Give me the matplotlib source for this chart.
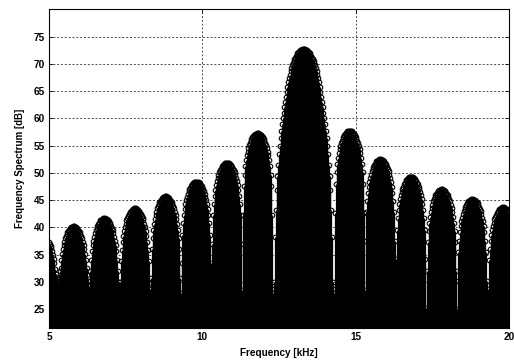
import numpy as np
import matplotlib
matplotlib.use("Agg")
import matplotlib.pyplot as plt

plt.rcParams['font.family'] = ['Liberation Sans', 'DejaVu Sans']

# sampling grid of the spectrum (kHz)
f_start = 5.0
f_step = 0.025

# spectrum levels (dB), read lobe by lobe from the picture
lobe0_tail = [37.3, 37.0, 36.6, 36.2, 35.6, 35.0, 34.3, 33.4, 32.3, 31.4, 30.9, 30.5]
lobe1 = [30.0, 31.0, 32.0, 32.6, 34.1, 35.2, 36.1, 36.8, 37.4, 38.0, 38.4, 38.8, 39.1, 39.4, 39.6, 39.8, 39.9, 40.0, 40.1, 40.2,
         40.2, 40.2, 40.1, 40.0, 39.9, 39.8, 39.6, 39.4, 39.1, 38.8, 38.4, 38.0, 37.4, 36.8, 36.1, 35.2, 34.1, 32.6, 31.2, 30.2]
lobe2 = [29.2, 30.2, 32.0, 34.1, 35.6, 36.7, 37.6, 38.3, 38.9, 39.5, 39.9, 40.3, 40.6, 40.9, 41.1, 41.3, 41.4, 41.6, 41.6, 41.7,
         41.7, 41.7, 41.6, 41.6, 41.4, 41.3, 41.1, 40.9, 40.6, 40.3, 39.9, 39.5, 38.9, 38.3, 37.6, 36.7, 35.6, 34.1, 32.0, 30.0]
lobe3 = [29.0, 30.0, 33.8, 35.9, 37.4, 38.5, 39.4, 40.1, 40.7, 41.3, 41.7, 42.1, 42.4, 42.7, 42.9, 43.1, 43.2, 43.4, 43.4, 43.5,
         43.5, 43.5, 43.4, 43.4, 43.2, 43.1, 42.9, 42.7, 42.4, 42.1, 41.7, 41.3, 40.7, 40.1, 39.4, 38.5, 37.4, 35.9, 33.8, 29.8]
lobe4 = [28.8, 30.7, 36.0, 38.1, 39.6, 40.7, 41.6, 42.3, 42.9, 43.5, 43.9, 44.3, 44.6, 44.9, 45.1, 45.3, 45.4, 45.6, 45.6, 45.7,
         45.7, 45.7, 45.6, 45.6, 45.4, 45.3, 45.1, 44.9, 44.6, 44.3, 43.9, 43.5, 42.9, 42.3, 41.6, 40.7, 39.6, 38.1, 36.0, 30.7]
lobe5 = [28.0, 33.4, 38.7, 40.8, 42.3, 43.4, 44.3, 45.0, 45.6, 46.2, 46.6, 47.0, 47.3, 47.6, 47.8, 48.0, 48.1, 48.3, 48.3, 48.4,
         48.4, 48.4, 48.3, 48.3, 48.1, 48.0, 47.8, 47.6, 47.3, 47.0, 46.6, 46.2, 45.6, 45.0, 44.3, 43.4, 42.3, 40.8, 38.7, 33.4]
lobe6 = [27.6, 36.9, 42.2, 44.3, 45.8, 46.9, 47.8, 48.5, 49.1, 49.7, 50.1, 50.5, 50.8, 51.1, 51.3, 51.5, 51.6, 51.8, 51.8, 51.9,
         51.9, 51.9, 51.8, 51.8, 51.6, 51.5, 51.3, 51.1, 50.8, 50.5, 50.1, 49.7, 49.1, 48.5, 47.8, 46.9, 45.8, 44.3, 42.2, 36.9]
lobe7 = [28.5, 42.3, 47.6, 49.7, 51.2, 52.3, 53.2, 53.9, 54.5, 55.1, 55.5, 55.9, 56.2, 56.5, 56.7, 56.9, 57.0, 57.2, 57.2, 57.3,
         57.3, 57.3, 57.2, 57.2, 57.0, 56.9, 56.7, 56.5, 56.2, 55.9, 55.5, 55.1, 54.5, 53.9, 53.2, 52.3, 51.2, 49.7, 47.6, 42.3]
main_lobe = [28.0, 28.8, 30.0, 38.2, 43.2, 46.9, 49.5, 51.5, 53.5, 55.0,
             56.4, 57.7, 58.9, 60.0, 61.0, 62.0, 63.0, 63.9, 64.8, 65.8,
             66.7, 67.4, 68.0, 68.6, 69.2, 69.7, 70.1, 70.5, 70.8, 71.1,
             71.4, 71.6, 71.9, 72.1, 72.2, 72.4, 72.5, 72.6, 72.7, 72.7,
             72.7,
             72.7, 72.7, 72.6, 72.5, 72.4, 72.2, 72.1, 71.9, 71.6,
             71.4, 71.1, 70.8, 70.5, 70.1, 69.7, 69.2, 68.6, 68.0, 67.4,
             66.7, 65.8, 64.8, 63.9, 63.0, 62.0, 61.0, 60.0, 58.9, 57.7,
             56.4, 55.0, 53.5, 51.5, 49.5, 46.9, 43.2, 38.2, 30.0, 28.8]
lobe9 = [28.0, 42.7, 48.0, 50.1, 51.6, 52.7, 53.6, 54.3, 54.9, 55.5, 55.9, 56.3, 56.6, 56.9, 57.1, 57.3, 57.4, 57.6, 57.6, 57.7,
         57.7, 57.7, 57.6, 57.6, 57.4, 57.3, 57.1, 56.9, 56.6, 56.3, 55.9, 55.5, 54.9, 54.3, 53.6, 52.7, 51.6, 50.1, 48.0, 42.7]
lobe10 = [28.5, 37.5, 42.8, 44.9, 46.4, 47.5, 48.4, 49.1, 49.7, 50.3, 50.7, 51.1, 51.4, 51.7, 51.9, 52.1, 52.2, 52.4, 52.4, 52.5,
          52.5, 52.5, 52.4, 52.4, 52.2, 52.1, 51.9, 51.7, 51.4, 51.1, 50.7, 50.3, 49.7, 49.1, 48.4, 47.5, 46.4, 44.9, 42.8, 37.5]
lobe11 = [27.0, 34.3, 39.6, 41.7, 43.2, 44.3, 45.2, 45.9, 46.5, 47.1, 47.5, 47.9, 48.2, 48.5, 48.7, 48.9, 49.0, 49.2, 49.2, 49.3,
          49.3, 49.3, 49.2, 49.2, 49.0, 48.9, 48.7, 48.5, 48.2, 47.9, 47.5, 47.1, 46.5, 45.9, 45.2, 44.3, 43.2, 41.7, 39.6, 34.3]
lobe12 = [25.2, 32.0, 37.3, 39.4, 40.9, 42.0, 42.9, 43.6, 44.2, 44.8, 45.2, 45.6, 45.9, 46.2, 46.4, 46.6, 46.7, 46.9, 46.9, 47.0,
          47.0, 47.0, 46.9, 46.9, 46.7, 46.6, 46.4, 46.2, 45.9, 45.6, 45.2, 44.8, 44.2, 43.6, 42.9, 42.0, 40.9, 39.4, 37.3, 32.0]
lobe13 = [25.0, 30.2, 35.5, 37.6, 39.1, 40.2, 41.1, 41.8, 42.4, 43.0, 43.4, 43.8, 44.1, 44.4, 44.6, 44.8, 44.9, 45.1, 45.1, 45.2,
          45.2, 45.2, 45.1, 45.1, 44.9, 44.8, 44.6, 44.4, 44.1, 43.8, 43.4, 43.0, 42.4, 41.8, 41.1, 40.2, 39.1, 37.6, 35.5, 30.2]
lobe14_head = [23.8, 28.7, 34.0, 36.1, 37.6, 38.7, 39.6, 40.3, 40.9, 41.5, 41.9, 42.3, 42.6, 42.9, 43.1, 43.3, 43.4, 43.6, 43.6, 43.7,
               43.7, 43.7, 43.6, 43.6, 43.4, 43.3, 43.1, 42.9, 42.6]

x_ticks = [5, 10, 15, 20]
y_ticks = [25, 30, 35, 40, 45, 50, 55, 60, 65, 70, 75]
x_label = "Frequency [kHz]"
y_label = "Frequency Spectrum [dB]"

levels = np.array(lobe0_tail + lobe1 + lobe2 + lobe3 + lobe4 + lobe5 + lobe6 + lobe7 +
                  main_lobe + lobe9 + lobe10 + lobe11 + lobe12 + lobe13 + lobe14_head)
freqs = f_start + f_step * np.arange(len(levels))

W, H = 514, 363
fig = plt.figure(figsize=(W / 100, H / 100), dpi=100)
ax = fig.add_axes([49 / W, 1 - 328 / H, (509 - 49) / W, (328 - 9.3) / H])

ymin, ymax = 21.57, 80.0
ax.vlines(freqs, 0, levels, color='black', linewidth=0.9, zorder=3)
ax.plot(freqs, levels, linestyle='none', marker='o', markersize=3.3,
        markerfacecolor='none', markeredgecolor='black', markeredgewidth=0.8, zorder=4)

ax.set_xlim(5, 20)
ax.set_ylim(ymin, ymax)
ax.set_xticks(x_ticks)
ax.set_yticks(y_ticks)
ax.grid(True, color='#333333', linestyle=(0, (2.4, 2.2)), linewidth=0.6, zorder=1)
ax.set_axisbelow(True)
ax.tick_params(direction='in', length=3, width=0.6, labelsize=7.2, top=True, right=True, pad=3)
for lab in ax.get_xticklabels() + ax.get_yticklabels():
    lab.set_fontweight('bold')
for s in ax.spines.values():
    s.set_linewidth(0.8)
ax.set_xlabel(x_label, fontsize=7.2, fontweight='bold', labelpad=4)
ax.set_ylabel(y_label, fontsize=7.0, fontweight='bold', labelpad=6)

fig.savefig("out.png", dpi=100)
